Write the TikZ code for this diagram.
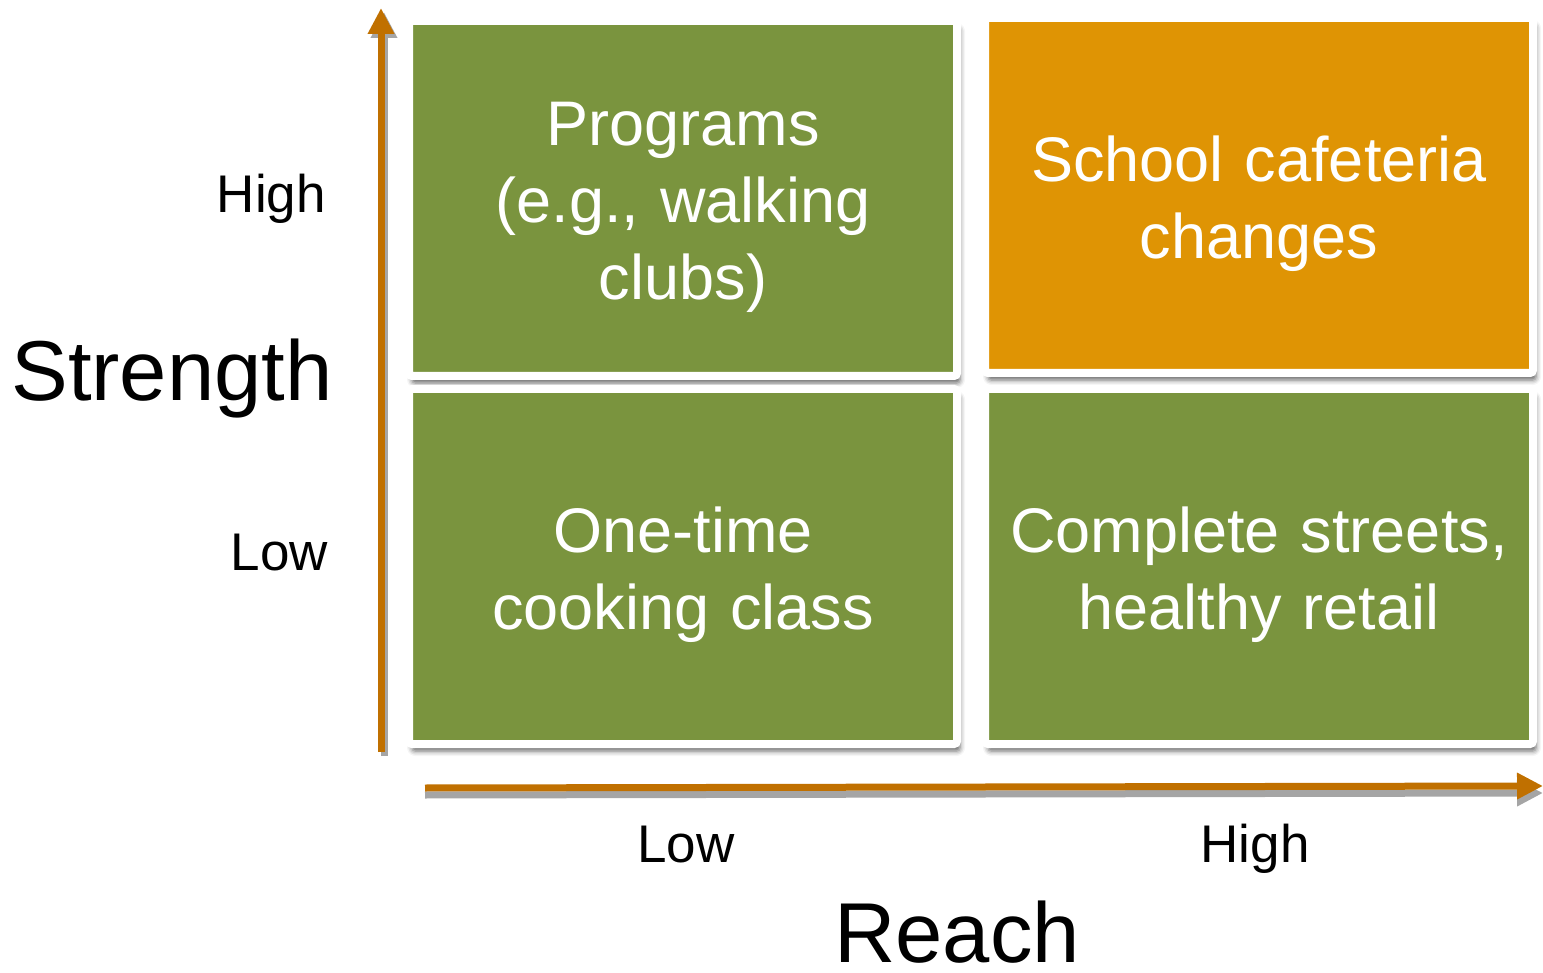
\documentclass[tikz,border=0pt]{standalone}
\usepackage{fontspec}
\setmainfont{Liberation Sans}
\usetikzlibrary{arrows.meta,shadows.blur}
\definecolor{boxgreen}{RGB}{122,148,62}
\definecolor{boxorange}{RGB}{223,148,4}
\definecolor{arrowc}{RGB}{192,112,0}
\definecolor{shadowc}{RGB}{165,165,165}
\tikzset{
  quad/.style={draw=white, line width=8pt, rounded corners=3pt,
    minimum width=548pt, minimum height=355pt, inner sep=0pt,
    text=white, text width=530pt, align=center,
    font=\fontsize{63}{77}\selectfont, text height=62pt,
    blur shadow={shadow xshift=3pt, shadow yshift=-7pt, shadow blur radius=5pt, shadow opacity=60}},
  axisarrow/.style={line width=7pt, draw=arrowc, -{Triangle[length=26pt,width=25pt]}},
  axisshadow/.style={line width=7pt, draw=shadowc, -{Triangle[length=26pt,width=25pt]}},
  ticklabel/.style={font=\fontsize{53}{60}\selectfont, text=black, inner sep=0pt},
  axistitle/.style={font=\fontsize{85}{96}\selectfont, text=black, inner sep=0pt}
}
\begin{document}
\begin{tikzpicture}[x=1pt,y=-1pt]
\useasboundingbox (0,0) rectangle (1543,973);
% quadrants
\node[quad, fill=boxgreen] (tl) at (683,198.5) {Programs\\(e.g., walking\\clubs)};
\node[quad, fill=boxorange] (tr) at (1259,195.5) {School cafeteria\\changes};
\node[quad, fill=boxgreen] (bl) at (683,566.5) {One-time\\cooking class};
\node[quad, fill=boxgreen] (br) at (1259,566.5) {Complete streets,\\healthy retail};
% axes
\coordinate (ys) at (381,752);
\coordinate (ye) at (381,8);
\coordinate (yss) at (384,756);
\coordinate (yes) at (384,12);
\coordinate (xs) at (425,788);
\coordinate (xe) at (1543,786);
\coordinate (xss) at (425,795);
\coordinate (xes) at (1543,793);
\draw[axisshadow] (yss) -- (yes);
\draw[axisarrow] (ys) -- (ye);
\draw[axisshadow] (xss) -- (xes);
\draw[axisarrow] (xs) -- (xe);
% labels
\node[ticklabel, anchor=base east] (yhigh) at (326,213) {High};
\node[ticklabel, anchor=base east] (ylow) at (328,570) {Low};
\node[ticklabel, anchor=base] (xlow) at (686,862) {Low};
\node[ticklabel, anchor=base] (xhigh) at (1255,862) {High};
\node[axistitle, anchor=base] (strength) at (172,401) {Strength};
\node[axistitle, anchor=base] (reach) at (957,962) {Reach};
\end{tikzpicture}
\end{document}
